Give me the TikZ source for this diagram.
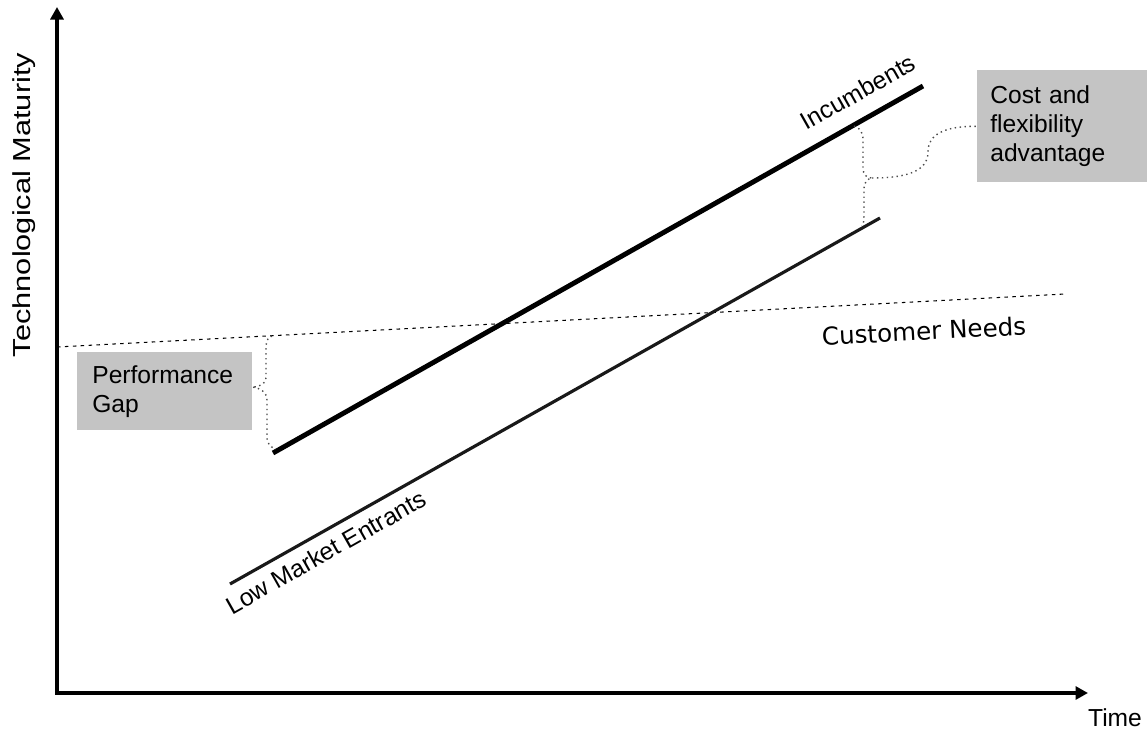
\documentclass[tikz,border=0pt]{standalone}
\usepackage{fontspec}
\setmainfont{Liberation Sans}
\newfontfamily\needsfont{DejaVu Sans}
\usetikzlibrary{arrows.meta}

\tikzset{
    axis/.style={line width=2pt, {Triangle[length=0.25cm,width=0.26cm]}-{Triangle[length=0.25cm,width=0.26cm]}},
    incline/.style={line width=2.8pt},
    entline/.style={line width=1.8pt, black!90},
    needline/.style={dash pattern=on 2pt off 2.5pt, line width=0.6pt},
    bracepath/.style={dotted, line width=0.8pt, black!70},
    notebox/.style={fill=black!23, align=left, inner ysep=0pt, font=\fontsize{14}{16.5}\selectfont},
    lbl/.style={font=\fontsize{14}{16.5}\selectfont, inner sep=0pt}
}

\begin{document}
\begin{tikzpicture}[x=0.02cm, y=-0.02cm]
            \useasboundingbox (0, 0) rectangle (1147, 731);

            \coordinate (origin) at (57, 693);
            \coordinate (ytop) at (57, 7);
            \coordinate (xend) at (1088, 693);
            \draw[axis] (ytop) -- (origin) -- (xend);
            \node[lbl, rotate=90] (ylabel) at (24, 205) {\scalebox{1.25}[1]{Technological Maturity}};
            \node[lbl] (xlabel) at (1115, 718) {Time};

            \coordinate (need-a) at (57, 347);
            \coordinate (need-b) at (1065, 294);
            \draw[needline] (need-a) -- (need-b);
            \node[lbl, rotate=3] (needs) at (924, 331) {\needsfont Customer Needs};

            \coordinate (inc-a) at (273, 453);
            \coordinate (inc-b) at (923, 86);
            \draw[incline] (inc-a) -- (inc-b);
            \node[lbl, rotate=29.45] (inc) at (858, 92) {Incumbents};

            \coordinate (ent-a) at (230, 584);
            \coordinate (ent-b) at (880, 218);
            \draw[entline] (ent-a) -- (ent-b);
            \node[lbl, rotate=29.45] (ent) at (326, 552) {Low Market Entrants};

            \node[notebox, anchor=north west, text width=2.9cm, inner xsep=0.3cm, minimum height=1.56cm] (gapbox) at (77, 352) {Performance\\Gap};
            \node[notebox, anchor=north west, text width=2.88cm, inner xsep=0.26cm, minimum height=2.24cm] (advbox) at (977, 70) {Cost and\\flexibility\\advantage};

            \coordinate (gap-top) at (272, 336);
            \coordinate (gap-tip) at (252, 387);
            \coordinate (gap-bot) at (276, 449);
            \draw[bracepath] (gap-top) .. controls (267, 337) and (266, 342) .. (266, 350) -- (266, 377)
                .. controls (266, 384) and (260, 387) .. (gap-tip)
                .. controls (260, 388) and (267, 392) .. (267, 400) -- (267, 436)
                .. controls (267, 444) and (270, 447) .. (gap-bot);

            \coordinate (adv-top) at (854, 126);
            \coordinate (adv-tip) at (872, 178);
            \coordinate (adv-bot) at (862, 226);
            \draw[bracepath] (adv-top) .. controls (860, 128) and (863, 132) .. (863, 140) -- (863, 168)
                .. controls (863, 175) and (867, 178) .. (adv-tip)
                .. controls (867, 179) and (864, 182) .. (864, 190) -- (864, 216)
                .. controls (864, 222) and (863, 224) .. (adv-bot);
            \draw[bracepath] (adv-tip) .. controls (905, 178) and (928, 172) .. (928, 152)
                .. controls (928, 134) and (945, 126) .. (advbox.west);
\end{tikzpicture}
\end{document}
